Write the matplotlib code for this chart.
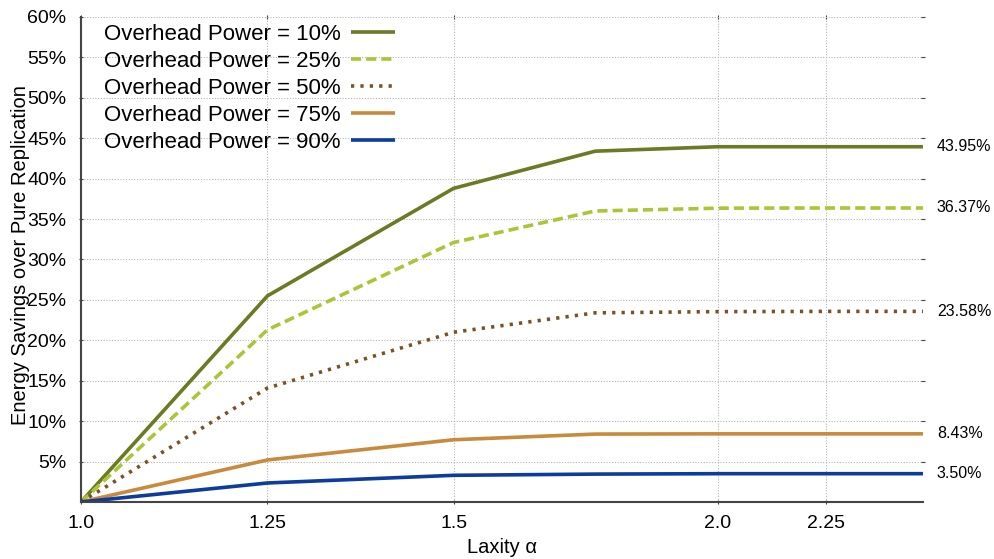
import matplotlib
matplotlib.use("Agg")
import matplotlib.pyplot as plt
import numpy as np

plt.rcParams['font.family'] = ['Liberation Sans', 'DejaVu Sans']

# --- data ---
# the "1.25" column sits a little left of where a log axis would put it
alpha = [1.0, 1.225, 1.5, 1.75, 2.0, 2.25, 2.5]
savings_10 = [0.0, 25.5, 38.8, 43.4, 43.95, 43.95, 43.95]
savings_25 = [0.0, 21.3, 32.1, 36.0, 36.35, 36.37, 36.37]
savings_50 = [0.0, 14.1, 21.0, 23.4, 23.55, 23.58, 23.58]
savings_75 = [0.0, 5.2, 7.7, 8.4, 8.43, 8.43, 8.43]
savings_90 = [0.0, 2.35, 3.3, 3.45, 3.50, 3.50, 3.50]

series_labels = ['Overhead Power = 10%', 'Overhead Power = 25%',
                 'Overhead Power = 50%', 'Overhead Power = 75%',
                 'Overhead Power = 90%']
end_labels = ['43.95%', '36.37%', '23.58%', '8.43%', '3.50%']

xtick_pos = [1.0, 1.225, 1.5, 2.0, 2.25]
xtick_labels = ['1.0', '1.25', '1.5', '2.0', '2.25']
ytick_vals = list(range(5, 61, 5))


def main():
    fig = plt.figure(figsize=(9.95, 5.59), dpi=100)
    ax = fig.add_axes([0.0814, 0.102, 0.8462, 0.8676])

    styles = [
        dict(color='#6B7A23', linestyle='-'),
        dict(color='#A9C636', linestyle=(0, (2.8, 1.4))),
        dict(color='#7B5225', linestyle=(0, (0.9, 1.7))),
        dict(color='#C88A3C', linestyle='-'),
        dict(color='#0B3C9E', linestyle='-'),
    ]
    all_series = [savings_10, savings_25, savings_50, savings_75, savings_90]

    for vals, lab, st in zip(all_series, series_labels, styles):
        ax.plot(alpha, vals, lw=2.6, label=lab, solid_capstyle='butt',
                dash_capstyle='butt', **st)

    for vals, txt in zip(all_series, end_labels):
        ax.annotate(txt, xy=(alpha[-1], vals[-1]), xytext=(10, 0),
                    textcoords='offset points', va='center', ha='left',
                    fontsize=11.5, annotation_clip=False)

    ax.set_xscale('log')
    ax.set_xlim(1.0, 2.5)
    ax.set_ylim(0, 60)
    ax.set_xticks(xtick_pos)
    ax.set_xticklabels(xtick_labels)
    ax.xaxis.set_minor_locator(matplotlib.ticker.NullLocator())
    ax.set_yticks(ytick_vals)
    ax.set_yticklabels([f'{v}%' for v in ytick_vals])

    ax.grid(True, color='#b5b5b5', linestyle=(0, (1, 1.5)), linewidth=0.8)
    ax.set_axisbelow(True)

    for side in ['top', 'right']:
        ax.spines[side].set_visible(False)
    for side in ['left', 'bottom']:
        ax.spines[side].set_color('#444444')
        ax.spines[side].set_linewidth(1.5)

    ax.tick_params(axis='both', which='major', labelsize=14, length=3,
                   direction='inout', color='#444444',
                   top=True, right=True)
    ax.tick_params(axis='x', pad=8)
    ax.tick_params(axis='y', pad=9)

    ax.set_xlabel('Laxity \u03b1', fontsize=14.5)
    ax.xaxis.set_label_coords(0.5, -0.075)
    ax.xaxis.label.set_va('top')
    ax.set_ylabel('Energy Savings over Pure Replication', fontsize=14.5)
    ax.yaxis.set_label_coords(-0.061, 0.51)

    ax.legend(loc='upper left', frameon=False, fontsize=16, markerfirst=False,
              handlelength=2.0, handletextpad=0.45, labelspacing=0.27,
              borderpad=0.1, borderaxespad=0.2,
              bbox_to_anchor=(0.0195, 1.0))

    fig.savefig('out.png', dpi=100)


if __name__ == "__main__":
    main()
